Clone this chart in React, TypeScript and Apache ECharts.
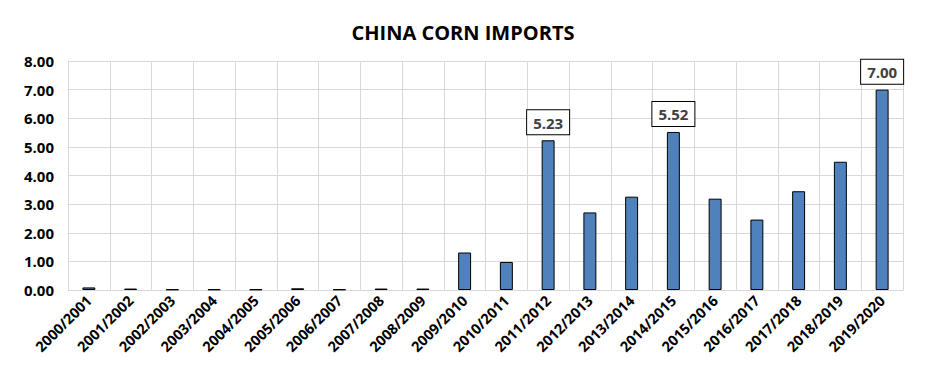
import React, { useEffect, useRef } from "react";
import * as echarts from "echarts";

const categories = [
  "2000/2001", "2001/2002", "2002/2003", "2003/2004", "2004/2005",
  "2005/2006", "2006/2007", "2007/2008", "2008/2009", "2009/2010",
  "2010/2011", "2011/2012", "2012/2013", "2013/2014", "2014/2015",
  "2015/2016", "2016/2017", "2017/2018", "2018/2019", "2019/2020",
];
const imports = [
  0.09, 0.05, 0.02, 0.02, 0.02, 0.06, 0.02, 0.05, 0.05, 1.31,
  0.98, 5.23, 2.71, 3.26, 5.52, 3.19, 2.46, 3.45, 4.48, 7.0,
];
const labelledCategories = ["2011/2012", "2014/2015", "2019/2020"];
const yTicks = { min: 0, max: 8, interval: 1 };

const FONT = "'Open Sans', 'Liberation Sans', sans-serif";

export default function App() {
  const ref = useRef<HTMLDivElement>(null);
  useEffect(() => {
    const chart = echarts.init(ref.current!, null, { renderer: "svg" });
    chart.setOption({
      animation: false,
      backgroundColor: "#ffffff",
      title: {
        text: "CHINA CORN IMPORTS",
        left: "center",
        top: 17,
        textStyle: { fontFamily: FONT, fontWeight: "bold", fontSize: 20, color: "#000" },
      },
      grid: { left: 68, right: 23, top: 61, bottom: 97 },
      xAxis: {
        type: "category",
        data: categories,
        axisLine: { show: true, lineStyle: { color: "#d9d9d9" } },
        axisTick: { show: false },
        splitLine: { show: true, lineStyle: { color: "#d9d9d9" } },
        axisLabel: {
          rotate: 45,
          interval: 0,
          margin: 8,
          fontFamily: FONT,
          fontWeight: "bold",
          fontSize: 14.5,
          color: "#000",
        },
      },
      yAxis: {
        type: "value",
        min: yTicks.min,
        max: yTicks.max,
        interval: yTicks.interval,
        axisLine: { show: true, lineStyle: { color: "#d9d9d9" } },
        axisTick: { show: false },
        splitLine: { show: true, lineStyle: { color: "#d9d9d9" } },
        axisLabel: {
          formatter: (v: number) => v.toFixed(2),
          margin: 14,
          fontFamily: FONT,
          fontWeight: "bold",
          fontSize: 15,
          color: "#000",
        },
      },
      series: [
        {
          type: "bar",
          barWidth: "31%",
          data: imports.map((v, i) => ({
            value: v,
            label: labelledCategories.includes(categories[i])
              ? {
                  show: true,
                  position: "top",
                  distance: 6,
                  formatter: (p: any) => Number(p.value).toFixed(2),
                  fontFamily: FONT,
                  fontWeight: "bold",
                  fontSize: 15,
                  color: "#404040",
                  backgroundColor: "#ffffff",
                  borderColor: "#000",
                  borderWidth: 1,
                  padding: [5, 6, 4, 6],
                }
              : { show: false },
          })),
          itemStyle: { color: "#4f81bd", borderColor: "#000", borderWidth: 1 },
        },
      ],
    });
    return () => chart.dispose();
  }, []);
  return (
    <div
      ref={ref}
      style={{ position: "fixed", left: 0, top: 0, width: 926, height: 387 }}
    />
  );
}
